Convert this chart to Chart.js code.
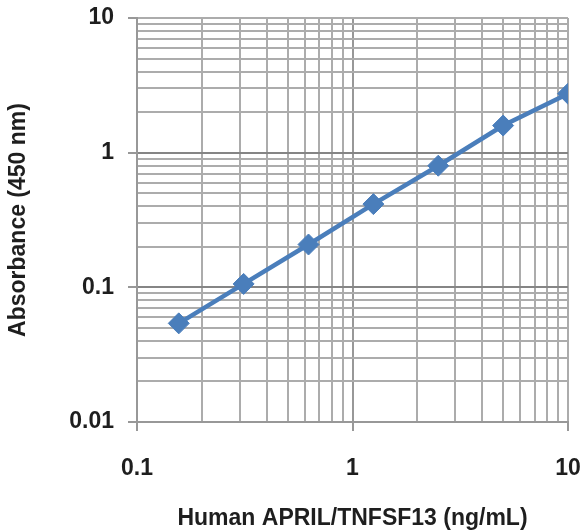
<!DOCTYPE html>
<html>
<head>
<meta charset="utf-8">
<script src="https://cdn.jsdelivr.net/npm/chart.js@4/dist/chart.umd.min.js"></script>
<style>
html,body{margin:0;padding:0;background:#fff;}
#wrap{width:582px;height:530px;position:relative;}
</style>
</head>
<body>
<div id="wrap"><canvas id="c" width="582" height="530"></canvas></div>
<script>
const concentrations = [0.15625, 0.3125, 0.625, 1.25, 2.5, 5, 10];
const absorbance = [0.054, 0.106, 0.208, 0.415, 0.80, 1.59, 2.74];
const xTickLabels = ['0.1', '1', '10'];
const yTickLabels = ['0.01', '0.1', '1', '10'];
const xTitle = 'Human APRIL/TNFSF13 (ng/mL)';
const yTitle = 'Absorbance (450 nm)';

const FONT = "'Liberation Sans', Arial, sans-serif";
const TXT = '#1e1e1e';

function decadeTicks(labels) {
  const majors = labels.map(Number);
  const out = [];
  for (let i = 0; i < majors.length; i++) {
    const base = majors[i];
    out.push(base);
    if (i < majors.length - 1) {
      for (let k = 2; k <= 9; k++) out.push(+(base * k).toPrecision(6));
    }
  }
  return out;
}
function isMajor(v, labels) {
  return labels.some(l => Math.abs(Number(l) - v) < 1e-9 * Math.max(1, v));
}
function labelFor(v, labels) {
  const l = labels.find(l => Math.abs(Number(l) - v) < 1e-9 * Math.max(1, v));
  return l === undefined ? '' : l;
}

const gridColorFn = (labels, majorCol, minorCol) => ctx => {
  const v = ctx.tick ? ctx.tick.value : null;
  return (v !== null && isMajor(v, labels) && v !== Number(labels[0]) && v !== Number(labels[labels.length-1])) ? majorCol : minorCol;
};

new Chart(document.getElementById('c'), {
  type: 'line',
  data: {
    datasets: [{
      data: concentrations.map((x, i) => ({x: x, y: absorbance[i]})),
      borderColor: '#4a7ebb',
      backgroundColor: '#4a7ebb',
      borderWidth: 4.5,
      pointStyle: 'rectRot',
      pointRadius: 10.5,
      pointHoverRadius: 10.5,
      pointBorderWidth: 1,
      tension: 0
    }]
  },
  options: {
    responsive: false,
    animation: false,
    devicePixelRatio: 1,
    layout: {padding: {top: 18, right: 14, bottom: 0, left: 0}},
    plugins: {legend: {display: false}, tooltip: {enabled: false}},
    scales: {
      x: {
        type: 'logarithmic',
        position: 'bottom',
        min: Number(xTickLabels[0]),
        max: Number(xTickLabels[xTickLabels.length - 1]),
        afterBuildTicks: s => { s.ticks = decadeTicks(xTickLabels).map(v => ({value: v})); },
        afterFit: s => { s.height = 108; s.paddingLeft = 0; s.paddingRight = 0; },
        grid: {
          color: gridColorFn(xTickLabels, '#989898', '#acacac'),
          lineWidth: 2,
          drawTicks: true,
          tickLength: 9,
          tickColor: ctx => (ctx.tick && isMajor(ctx.tick.value, xTickLabels)) ? '#989898' : 'rgba(0,0,0,0)',
          tickWidth: 2
        },
        border: {display: true, color: '#989898', width: 2},
        ticks: {
          autoSkip: false,
          maxRotation: 0,
          padding: 24,
          color: TXT,
          font: {family: FONT, size: 23, weight: 'bold'},
          callback: v => labelFor(v, xTickLabels)
        },
        title: {
          display: true,
          text: xTitle,
          color: TXT,
          padding: {top: 0, bottom: 0},
          font: {family: FONT, size: 23, weight: 'bold', lineHeight: 1.0}
        }
      },
      y: {
        type: 'logarithmic',
        min: Number(yTickLabels[0]),
        max: Number(yTickLabels[yTickLabels.length - 1]),
        afterBuildTicks: s => { s.ticks = decadeTicks(yTickLabels).map(v => ({value: v})); },
        afterFit: s => { s.width = 137; s.paddingTop = 0; s.paddingBottom = 0; },
        grid: {
          color: gridColorFn(yTickLabels, '#858585', '#acacac'),
          lineWidth: 2,
          drawTicks: true,
          tickLength: 9,
          tickColor: ctx => (ctx.tick && isMajor(ctx.tick.value, yTickLabels)) ? '#989898' : 'rgba(0,0,0,0)',
          tickWidth: 2
        },
        border: {display: true, color: '#989898', width: 2},
        ticks: {
          autoSkip: false,
          padding: 14,
          color: TXT,
          font: {family: FONT, size: 23, weight: 'bold'},
          callback: v => labelFor(v, yTickLabels)
        },
        title: {
          display: true,
          text: yTitle,
          color: TXT,
          padding: {top: 5, bottom: 0},
          font: {family: FONT, size: 23, weight: 'bold', lineHeight: 1.2}
        }
      }
    }
  }
});
</script>
</body>
</html>
